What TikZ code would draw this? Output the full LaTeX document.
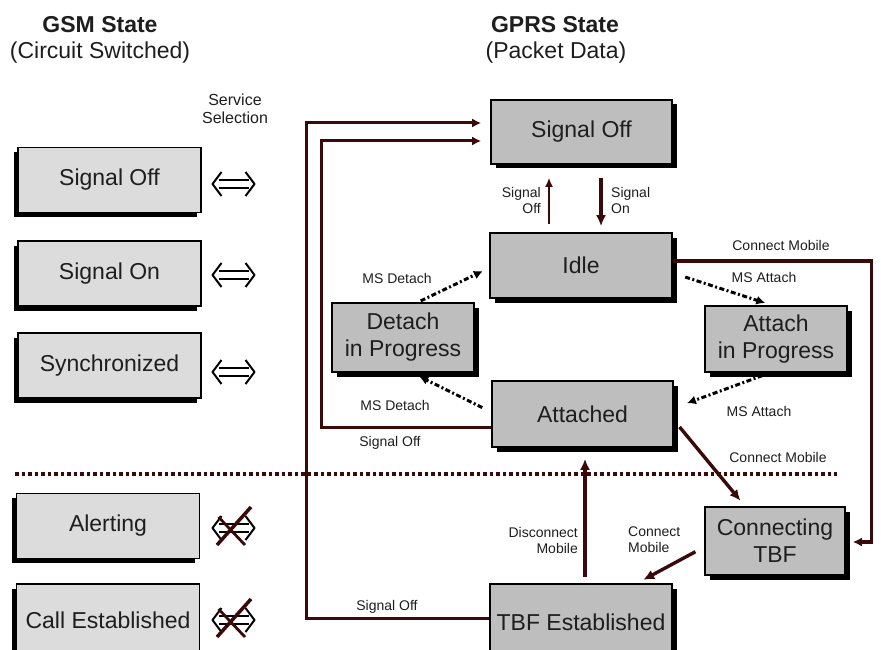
\documentclass[tikz,border=0pt]{standalone}
\usepackage{fontspec}
\setmainfont{Liberation Sans}
\usetikzlibrary{arrows.meta,shadows}
\definecolor{wire}{HTML}{3A0A0A}
\definecolor{gsmfill}{HTML}{DCDCDC}
\definecolor{gprsfill}{HTML}{BEBEBE}
\definecolor{ink}{HTML}{1E1E1E}

\tikzset{
  iffsym/.pic={
    \draw[line width=2pt, black] (-15,-4) -- (15,-4) (-15,4) -- (15,4);
    \draw[line width=2pt, black, line join=round] (-12,-12) -- (-21,0) -- (-12,12);
    \draw[line width=2pt, black, line join=round] (12,-12) -- (21,0) -- (12,12);
  },
  nosym/.pic={
    \pic {iffsym};
    \draw[line width=3.5pt, wire] (17.5,-21) -- (-16.5,17);
    \draw[line width=2.8pt, wire] (-15,-11) -- (11.5,17);
  }
}

\begin{document}
\begin{tikzpicture}[x=1pt,y=-1pt,
  box/.style={draw=black, line width=1.6pt, inner sep=0pt, align=center, text=ink,
    font=\fontsize{23}{27}\selectfont},
  gsmbox/.style={box, fill=gsmfill, minimum width=183pt, minimum height=65pt,
    drop shadow={shadow xshift=-4.5pt, shadow yshift=-4.5pt, opacity=1, fill=black}},
  gprsbox/.style={box, fill=gprsfill,
    drop shadow={shadow xshift=4.5pt, shadow yshift=-4.5pt, opacity=1, fill=black}},
  lbl/.style={text=ink, font=\fontsize{14}{16}\selectfont, inner sep=0pt},
  title/.style={text=ink, font=\fontsize{23}{27}\selectfont, inner sep=0pt},
  thickwire/.style={draw=wire, line width=3.4pt, -{Latex[length=11pt,width=10pt]}},
  thinwire/.style={draw=wire, line width=2pt, -{Latex[length=9pt,width=8pt]}},
  loopwire/.style={draw=wire, line width=3pt, -{Latex[length=9pt,width=9pt]}},
  dashwire/.style={draw=black, line width=3pt, dash pattern=on 5pt off 2.5pt on 2pt off 2.5pt,
    -{Latex[length=9pt,width=9pt]}},
  sepline/.style={draw=wire, line width=3.5pt, dash pattern=on 3.5pt off 3pt}
]
\useasboundingbox[fill=white] (0,0) rectangle (881,650);

% column headings
\node[title] (tgsm) at (100,25) {\bfseries GSM State};
\node[title] (tcs) at (100,53) {(Circuit Switched)};
\node[title] (tgprs) at (555,25) {\bfseries GPRS State};
\node[title] (tpd) at (556,53) {(Packet Data)};
\node[lbl, align=center, font=\fontsize{16}{18}\selectfont] (tss) at (235,109) {Service\\Selection};

% GSM states
\node[gsmbox] (gsoff) at (109.5,180) {Signal Off};
\node[gsmbox] (gson) at (109.5,273.5) {Signal On};
\node[gsmbox] (gsync) at (109.5,365.5) {Synchronized};
\node[gsmbox] (galert) at (108,526) {Alerting};
\node[gsmbox, minimum height=72pt] (gcall) at (108,620) {Call Established};

% service selection symbols
\pic (m1) at (233.5,184) {iffsym};
\pic (m2) at (233.5,275) {iffsym};
\pic (m3) at (233.5,372) {iffsym};
\pic (m4) at (233.5,528) {nosym};
\pic (m5) at (233.5,620) {nosym};

% boundary between circuit switched and packet states
\draw[sepline] (15,474) -- (837,474);

% GPRS states
\node[gprsbox, minimum width=181pt, minimum height=64pt] (soff) at (581.5,132) {Signal Off};
\node[gprsbox, minimum width=182pt, minimum height=65pt] (idle) at (581,265.5) {Idle};
\node[gprsbox, minimum width=181pt, minimum height=66pt] (att) at (582.5,414) {Attached};
\node[gprsbox, minimum width=182pt, minimum height=76pt] (tbf) at (581,622) {TBF Established};
\node[gprsbox, minimum width=142pt, minimum height=69pt] (dip) at (403,337.5) {Detach\\in Progress};
\node[gprsbox, minimum width=142pt, minimum height=66pt] (aip) at (776,339) {Attach\\in Progress};
\node[gprsbox, minimum width=140pt, minimum height=68pt] (ctbf) at (775,541) {Connecting\\TBF};

% signal off returns
\draw[loopwire, shorten >=9pt] ([yshift=4pt]tbf.west) -- ++(-183,0) |- ([yshift=9pt]soff.west);
\draw[loopwire, shorten >=9pt] ([yshift=-13pt]att.west) -- ++(-170,0) |- ([yshift=-9pt]soff.west);
\node[lbl] (lso1) at (390,443) {Signal Off};
\node[lbl] (lso2) at (387,607) {Signal Off};

% signal on / off
\draw[thinwire, shorten <=8pt, shorten >=13pt] ([xshift=-32pt]idle.north) -- ([xshift=-32.5pt]soff.south);
\draw[thickwire, shorten <=13pt, shorten >=6pt] ([xshift=19.5pt]soff.south) -- ([xshift=20pt]idle.north);
\node[lbl, align=right, anchor=east] (lsoff) at (541,200) {Signal\\Off};
\node[lbl, align=left, anchor=west] (lson) at (611,200) {Signal\\On};

% attach / detach
\draw[dashwire, shorten <=3pt, shorten >=7pt] ([xshift=15pt]dip.north) -- ([yshift=-2.5pt]idle.west);
\draw[dashwire, shorten <=10pt, shorten >=8pt] ([yshift=2pt]att.west) -- ([xshift=9pt]dip.south);
\draw[dashwire, shorten <=13pt, shorten >=7pt] ([yshift=-7.5pt]idle.east) -- ([xshift=-4pt]aip.north);
\draw[dashwire, shorten <=8pt, shorten >=14pt] ([xshift=-6pt]aip.south) -- ([yshift=6pt]att.east);
\node[lbl] (lmsd1) at (397,278) {MS Detach};
\node[lbl] (lmsd2) at (395,405) {MS Detach};
\node[lbl] (lmsa1) at (764,277) {MS Attach};
\node[lbl] (lmsa2) at (759,411) {MS Attach};

% temporary block flow
\draw[loopwire, line width=3.2pt, shorten >=7pt] ([yshift=4.5pt]idle.east) -- ++(199,0) |- ([yshift=-1pt]ctbf.east);
\draw[thickwire, shorten <=9pt, shorten >=7pt] ([yshift=-6pt]att.east) -- ([xshift=-30pt]ctbf.north);
\draw[thickwire, shorten <=10pt, shorten >=7pt] ([yshift=-6pt]ctbf.west) -- ([xshift=56pt]tbf.north);
\draw[thickwire, shorten <=6pt, shorten >=11pt] ([xshift=4pt]tbf.north) -- ([xshift=2.5pt]att.south);
\node[lbl] (lcm1) at (781,245) {Connect Mobile};
\node[lbl] (lcm2) at (778,457) {Connect Mobile};
\node[lbl, align=right, anchor=east] (ldisc) at (578,540) {Disconnect\\Mobile};
\node[lbl, align=left, anchor=west] (lcm3) at (628,540) {Connect\\Mobile};
\end{tikzpicture}
\end{document}
